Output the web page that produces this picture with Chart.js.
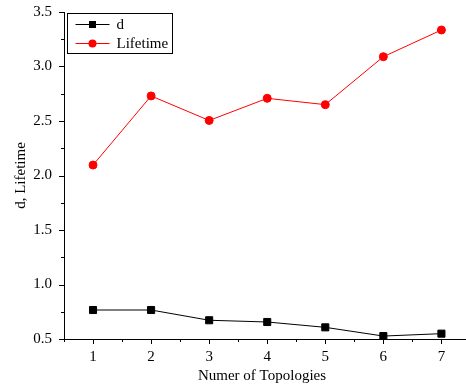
<!DOCTYPE html>
<html>
<head>
<meta charset="utf-8">
<script src="https://cdn.jsdelivr.net/npm/chart.js@4"></script>
<style>
  html, body { margin: 0; padding: 0; background: #fff; }
  #wrap { width: 466px; height: 385px; }
</style>
</head>
<body>
<div id="wrap"><canvas id="grafico"></canvas></div>
<script>
const topologias = [1, 2, 3, 4, 5, 6, 7];
const valoresD = [0.766, 0.766, 0.672, 0.656, 0.607, 0.527, 0.549];
const valoresLifetime = [2.096, 2.73, 2.505, 2.708, 2.65, 3.09, 3.335];
const nomesSeries = ['d', 'Lifetime'];
const tituloX = 'Numer of Topologies';
const tituloY = 'd, Lifetime';

const fonte = 'Liberation Serif';

// ticks maiores e menores desenhados a mano, pra imitar o Origin
const ticksPlugin = {
  id: 'ticksManual',
  afterDraw(chart) {
    const ctx = chart.ctx;
    const x = chart.scales.x;
    const y = chart.scales.y;
    ctx.save();
    ctx.strokeStyle = '#000';
    ctx.lineWidth = 1;
    ctx.beginPath();
    // eixo y
    ctx.moveTo(x.left + 0.5, y.top);
    ctx.lineTo(x.left + 0.5, y.bottom + 0.5);
    // eixo x
    ctx.lineTo(chart.width, y.bottom + 0.5);
    for (let v = 0.5; v <= 7.5; v += 0.5) {
      const px = Math.round(x.getPixelForValue(v)) + 0.5;
      const len = Number.isInteger(v) ? 5 : 3;
      ctx.moveTo(px, y.bottom);
      ctx.lineTo(px, y.bottom + len);
    }
    for (let v = 0.5; v <= 3.5001; v += 0.25) {
      const py = Math.round(y.getPixelForValue(v)) + 0.5;
      const len = Math.abs(v * 2 - Math.round(v * 2)) < 1e-6 ? 5 : 3;
      ctx.moveTo(x.left, py);
      ctx.lineTo(x.left - len, py);
    }
    ctx.stroke();
    ctx.restore();
  }
};

// legenda com linha atravessando o marcador
const legendaPlugin = {
  id: 'legendaOrigin',
  afterDraw(chart) {
    const ctx = chart.ctx;
    const area = chart.chartArea;
    const bx = area.left + 3.5, by = area.top + 1.5, bw = 105, bh = 40;
    ctx.save();
    ctx.strokeStyle = '#000';
    ctx.lineWidth = 1;
    ctx.strokeRect(bx, by, bw, bh);
    ctx.font = '15px "' + fonte + '"';
    ctx.textBaseline = 'middle';
    chart.data.datasets.forEach((ds, i) => {
      const ly = by + 11 + i * 19;
      ctx.strokeStyle = ds.borderColor;
      ctx.beginPath();
      ctx.moveTo(bx + 8, ly);
      ctx.lineTo(bx + 42, ly);
      ctx.stroke();
      ctx.fillStyle = ds.pointBackgroundColor;
      const cx = bx + 25;
      if (ds.pointStyle === 'rect') {
        ctx.fillRect(cx - 3.5, ly - 3.5, 7, 7);
      } else {
        ctx.beginPath();
        ctx.arc(cx, ly, 4, 0, Math.PI * 2);
        ctx.fill();
      }
      ctx.fillStyle = '#000';
      ctx.fillText(ds.label, bx + 49, ly + 1);
    });
    ctx.restore();
  }
};

new Chart(document.getElementById('grafico').getContext('2d'), {
  type: 'line',
  data: {
    datasets: [
      {
        label: nomesSeries[0],
        data: topologias.map((t, i) => ({ x: t, y: valoresD[i] })),
        borderColor: '#000',
        backgroundColor: '#000',
        pointBackgroundColor: '#000',
        pointBorderColor: '#000',
        pointStyle: 'rect',
        pointRadius: 5,
        borderWidth: 1,
        tension: 0
      },
      {
        label: nomesSeries[1],
        data: topologias.map((t, i) => ({ x: t, y: valoresLifetime[i] })),
        borderColor: '#ff0000',
        backgroundColor: '#ff0000',
        pointBackgroundColor: '#ff0000',
        pointBorderColor: '#ff0000',
        pointStyle: 'circle',
        pointRadius: 4,
        borderWidth: 1,
        tension: 0
      }
    ]
  },
  options: {
    responsive: true,
    maintainAspectRatio: false,
    animation: false,
    layout: { padding: { top: 12, left: 12, right: 0, bottom: 0 } },
    plugins: {
      legend: { display: false },
      tooltip: { enabled: false }
    },
    scales: {
      x: {
        type: 'linear',
        min: 0.5,
        max: 7.32,
        border: { display: false },
        grid: { display: false, drawTicks: false },
        afterFit: s => {
          s.height = 46;
          s.paddingLeft = 0;
          s.paddingRight = 0;
        },
        ticks: {
          stepSize: 1,
          padding: 9,
          color: '#000',
          maxRotation: 0,
          font: { family: fonte, size: 15 },
          callback: v => Number.isInteger(v) ? String(v) : ''
        },
        afterBuildTicks: s => {
          s.ticks = topologias.map(t => ({ value: t }));
        },
        title: {
          display: true,
          text: tituloX,
          color: '#000',
          font: { family: fonte, size: 15 },
          padding: { top: 0, bottom: 0 }
        }
      },
      y: {
        min: 0.5,
        max: 3.5,
        border: { display: false },
        grid: { display: false, drawTicks: false },
        afterFit: s => {
          s.width = 52;
          s.paddingTop = 0;
          s.paddingBottom = 0;
        },
        ticks: {
          stepSize: 0.5,
          padding: 12,
          color: '#000',
          font: { family: fonte, size: 15 },
          callback: v => v.toFixed(1)
        },
        title: {
          display: true,
          text: tituloY,
          color: '#000',
          font: { family: fonte, size: 15 },
          padding: { top: 0, bottom: 4 }
        }
      }
    }
  },
  plugins: [ticksPlugin, legendaPlugin]
});
</script>
</body>
</html>
